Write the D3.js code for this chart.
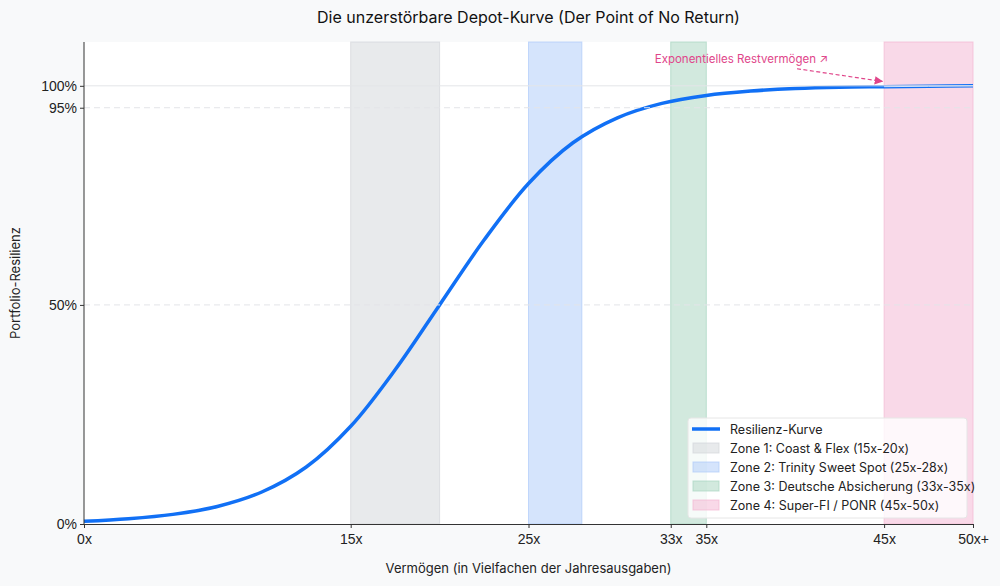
<!DOCTYPE html>
<html>
<head>
<meta charset="utf-8">
<script src="https://cdn.jsdelivr.net/npm/d3@7"></script>
<style>
  body { margin: 0; background: #f8f9fa; font-family: Inter, "Noto Sans", sans-serif; }
  #chart { width: 1000px; height: 586px; }
</style>
</head>
<body>
<div id="chart"></div>
<script>
// values
const wealth = [0, 2.5, 5, 7.5, 10, 12.5, 15, 17.5, 20, 22.5, 25, 27.5, 30, 32.5, 35, 37.5, 40, 42.5, 45, 47.5, 50];
const resilience = [0.6, 1.2, 2.2, 4.0, 7.3, 13, 22.3, 35.2, 50, 64.8, 77.7, 87, 92.7, 96, 97.8, 98.8, 99.4, 99.7, 99.8, 99.9, 100];

const zoneNames = ['Zone 1: Coast & Flex (15x-20x)', 'Zone 2: Trinity Sweet Spot (25x-28x)',
                   'Zone 3: Deutsche Absicherung (33x-35x)', 'Zone 4: Super-FI / PONR (45x-50x)'];
const zoneStart = [15, 25, 33, 45];
const zoneEnd = [20, 28, 35, 50];
const zoneColors = ['#d3d6da', '#aecbfa', '#a8d5c0', '#f4b6d2'];

const xTicks = [0, 15, 25, 33, 35, 45, 50];
const xTickLabels = ['0x', '15x', '25x', '33x', '35x', '45x', '50x+'];
const yTicks = [0, 50, 95, 100];

const width = 1000, height = 586;
const margin = ({top: 42, right: 27, bottom: 62, left: 84});

const svg = d3.create('svg')
  .attr('width', width)
  .attr('height', height)
  .style('font-family', 'Inter, "Noto Sans", sans-serif');

const xScale = d3.scaleLinear().domain([0, 50]).range([margin.left, width - margin.right]);
const yScale = d3.scaleLinear().domain([0, 110]).range([height - margin.bottom, margin.top]);

// plot background
svg.append('rect')
  .attr('x', margin.left).attr('y', margin.top)
  .attr('width', xScale(50) - xScale(0))
  .attr('height', yScale(0) - yScale(110))
  .attr('fill', '#ffffff');

// zones
svg.append('g')
  .selectAll('rect')
  .data(zoneNames)
  .join('rect')
  .attr('x', (d, i) => xScale(zoneStart[i]))
  .attr('y', yScale(110))
  .attr('width', (d, i) => xScale(zoneEnd[i]) - xScale(zoneStart[i]))
  .attr('height', yScale(0) - yScale(110))
  .attr('fill', (d, i) => zoneColors[i])
  .attr('fill-opacity', 0.52)
  .attr('stroke', (d, i) => zoneColors[i])
  .attr('stroke-opacity', 0.7);

// curve
const line = d3.line()
  .x((d, i) => xScale(wealth[i]))
  .y(d => yScale(d))
  .curve(d3.curveCatmullRom.alpha(0.5));

svg.append('path')
  .datum(resilience)
  .attr('d', line)
  .attr('fill', 'none')
  .attr('stroke', '#1170f5')
  .attr('stroke-width', 3.5);

// highlight of the tail inside zone 4
const tail = resilience.filter((d, i) => wealth[i] >= 45);
svg.append('path')
  .datum(tail)
  .attr('d', d3.line().x((d, i) => xScale(45 + i * 2.5)).y(d => yScale(d)))
  .attr('fill', 'none')
  .attr('stroke', '#cfe0ff')
  .attr('stroke-width', 1);

// gridlines
svg.append('g')
  .selectAll('line')
  .data(yTicks.filter(d => d > 0))
  .join('line')
  .attr('x1', xScale(0)).attr('x2', xScale(50))
  .attr('y1', d => yScale(d)).attr('y2', d => yScale(d))
  .attr('stroke', '#e3e5e8')
  .attr('stroke-width', 1)
  .attr('stroke-dasharray', d => d === 100 ? null : '6,4');

// axes
const xAxis = svg.append('g')
  .attr('transform', `translate(0, ${yScale(0)})`)
  .call(d3.axisBottom(xScale).tickValues(xTicks).tickFormat((d, i) => xTickLabels[i]).tickSizeOuter(0).tickSize(4));
xAxis.selectAll('text').attr('font-size', 14).attr('fill', '#222').attr('dy', '0.9em');

const yAxis = svg.append('g')
  .attr('transform', `translate(${margin.left}, 0)`)
  .call(d3.axisLeft(yScale).tickValues(yTicks).tickFormat(d => d + '%').tickSizeOuter(0).tickSize(4));
yAxis.selectAll('text').attr('font-size', 14).attr('fill', '#222');
yAxis.select('.domain').attr('d', `M0,${yScale(110)}V${yScale(0)}`);
svg.selectAll('.domain, .tick line').attr('stroke', '#333');

// axis titles
svg.append('text')
  .attr('x', (xScale(0) + xScale(50)) / 2)
  .attr('y', 573)
  .attr('text-anchor', 'middle')
  .attr('font-size', 13)
  .attr('fill', '#222')
  .text('Vermögen (in Vielfachen der Jahresausgaben)');

svg.append('text')
  .attr('transform', `translate(20, ${(yScale(0) + yScale(110)) / 2}) rotate(-90)`)
  .attr('text-anchor', 'middle')
  .attr('font-size', 13)
  .attr('fill', '#222')
  .text('Portfolio-Resilienz');

// title
svg.append('text')
  .attr('x', (xScale(0) + xScale(50)) / 2)
  .attr('y', 23)
  .attr('text-anchor', 'middle')
  .attr('font-size', 16)
  .attr('fill', '#111')
  .text('Die unzerstörbare Depot-Kurve (Der Point of No Return)');

// annotation
const defs = svg.append('defs');
defs.append('marker')
  .attr('id', 'arrow')
  .attr('viewBox', '0 0 10 10')
  .attr('refX', 9).attr('refY', 5)
  .attr('markerWidth', 7).attr('markerHeight', 7)
  .attr('orient', 'auto')
  .append('path')
  .attr('d', 'M0,0L10,5L0,10z')
  .attr('fill', '#e0458a');

svg.append('line')
  .attr('x1', xScale(40.1)).attr('y1', yScale(103.9))
  .attr('x2', xScale(44.9)).attr('y2', yScale(101))
  .attr('stroke', '#e0458a')
  .attr('stroke-width', 1.2)
  .attr('stroke-dasharray', '4,2.5')
  .attr('marker-end', 'url(#arrow)');

svg.append('text')
  .attr('x', xScale(32.1))
  .attr('y', yScale(105.3))
  .attr('font-size', 11.5)
  .attr('fill', '#e0458a')
  .text('Exponentielles Restvermögen ↗');

// legend
const legend = svg.append('g').attr('transform', 'translate(688, 418)');
legend.append('rect')
  .attr('width', 279).attr('height', 100)
  .attr('rx', 3)
  .attr('fill', '#ffffff').attr('fill-opacity', 0.8)
  .attr('stroke', '#e6e6e6');

legend.append('line')
  .attr('x1', 4).attr('x2', 32).attr('y1', 11).attr('y2', 11)
  .attr('stroke', '#1170f5').attr('stroke-width', 3.5);
legend.append('text')
  .attr('x', 42).attr('y', 15.5)
  .attr('font-size', 12.5).attr('fill', '#222')
  .text('Resilienz-Kurve');

legend.selectAll('.zone')
  .data(zoneNames)
  .join('g')
  .attr('class', 'zone')
  .attr('transform', (d, i) => `translate(0, ${30 + i * 19})`)
  .each(function(d, i) {
    const g = d3.select(this);
    g.append('rect')
      .attr('x', 5).attr('y', -5).attr('width', 26).attr('height', 10)
      .attr('fill', zoneColors[i]).attr('fill-opacity', 0.52)
      .attr('stroke', zoneColors[i]).attr('stroke-opacity', 0.7);
    g.append('text')
      .attr('x', 42).attr('y', 4.5)
      .attr('font-size', 12.5).attr('fill', '#222')
      .text(d);
  });

document.getElementById('chart').appendChild(svg.node());
</script>
</body>
</html>
